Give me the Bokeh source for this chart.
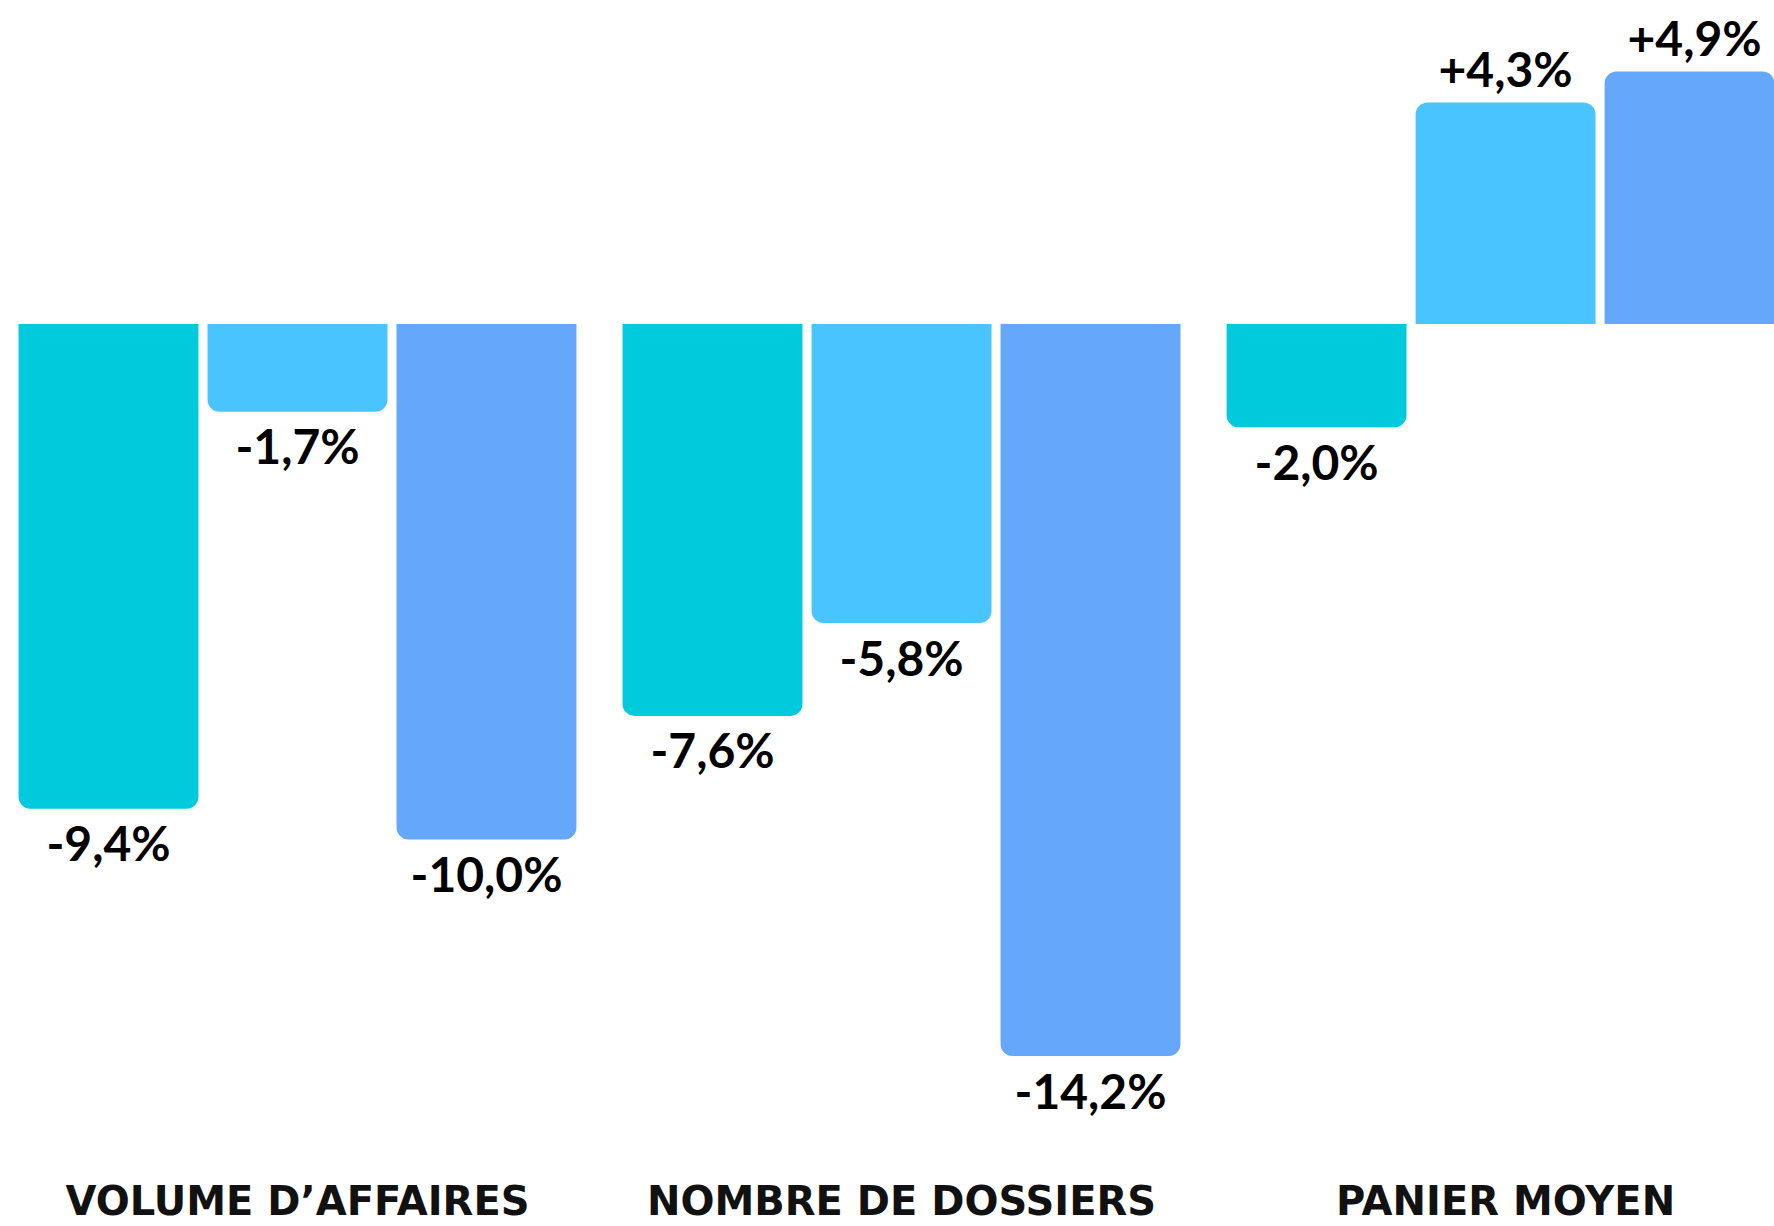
from bokeh.plotting import figure
from bokeh.models import Range1d, ColumnDataSource
from bokeh.embed import file_html
from bokeh.resources import INLINE
from bokeh.core.properties import value

# ---- data ----
categories = ["VOLUME D’AFFAIRES", "NOMBRE DE DOSSIERS", "PANIER MOYEN"]
series_colors = ["#00CADC", "#4AC4FF", "#65A7FA"]
series_1 = [-9.4, -7.6, -2.0]
series_2 = [-1.7, -5.8, 4.3]
series_3 = [-10.0, -14.2, 4.9]
all_series = [series_1, series_2, series_3]

# ---- layout constants ----
GROUP_STEP = 3.196   # distance between groups, in bar slots
BAR_W = 0.952
RADIUS = 12
Y_MIN, Y_MAX = -17.505, 6.277

def fmt(v):
    return f"{v:+.1f}%".replace(".", ",")

neg = dict(x=[], v=[], c=[], t=[])
pos = dict(x=[], v=[], c=[], t=[])
for gi, _cat in enumerate(categories):
    for si, ser in enumerate(all_series):
        v = ser[gi]
        d = neg if v < 0 else pos
        d["x"].append(gi * GROUP_STEP + si)
        d["v"].append(v)
        d["c"].append(series_colors[si])
        d["t"].append(fmt(v))

neg_src = ColumnDataSource(neg)
pos_src = ColumnDataSource(pos)
cat_src = ColumnDataSource(dict(
    x=[gi * GROUP_STEP + 1 for gi in range(len(categories))],
    y=[Y_MIN] * len(categories),
    t=categories))

p = figure(width=1774, height=1226, output_backend="svg", toolbar_location=None,
           x_range=Range1d(-0.5714, 8.815), y_range=Range1d(Y_MIN, Y_MAX),
           min_border=0, outline_line_color=None, background_fill_color="white",
           x_axis_location=None, y_axis_location=None,
           styles={"position": "absolute", "left": "0px", "top": "0px"})

p.vbar(x="x", top=0, bottom="v", width=BAR_W, fill_color="c", line_color=None,
       border_radius=dict(top_left=0, top_right=0, bottom_right=RADIUS, bottom_left=RADIUS),
       source=neg_src)
p.vbar(x="x", top="v", bottom=0, width=BAR_W, fill_color="c", line_color=None,
       border_radius=dict(top_left=RADIUS, top_right=RADIUS, bottom_right=0, bottom_left=0),
       source=pos_src)

label_kw = dict(text_align="center", text_baseline="middle", text_font=value("Lato"),
                text_font_style="bold", text_font_size="48px", text_color="#000000")
p.text(x="x", y="v", text="t", source=neg_src, y_offset=34, **label_kw)
p.text(x="x", y="v", text="t", source=pos_src, y_offset=-34, **label_kw)

# category labels along the bottom
p.text(x="x", y="y", text="t", source=cat_src, text_align="center",
       text_baseline="middle", y_offset=-26, text_font=value("DejaVu Sans"),
       text_font_style="bold", text_font_size="40px", text_color="#111111")

p.grid.visible = False

open("out.html", "w").write(file_html(p, INLINE))
